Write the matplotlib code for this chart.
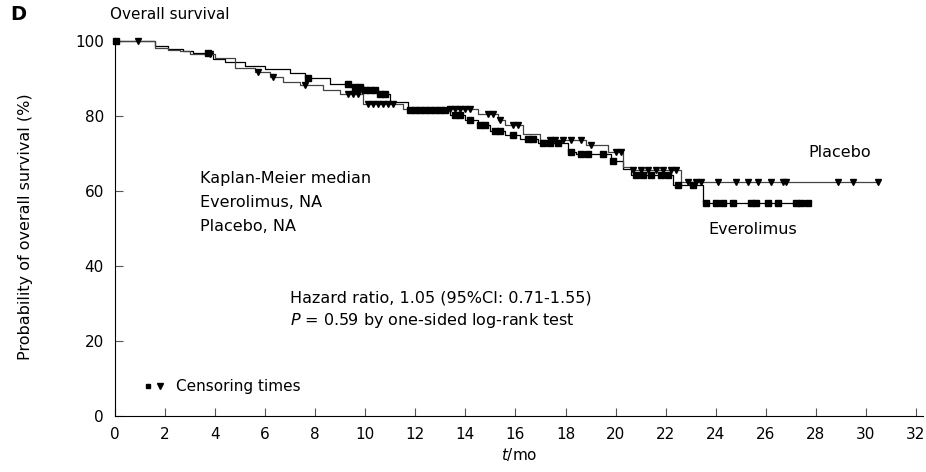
import matplotlib
matplotlib.use('Agg')
import matplotlib.pyplot as plt
import numpy as np

plt.rcParams['font.family'] = ['DejaVu Sans']

# Everolimus: step times and survival (%) after each step
ev_t = [0, 1.6, 2.1, 2.7, 3.1, 3.9, 4.4, 5.2, 6.0, 7.0, 7.6, 8.6, 9.4, 10.0, 10.5, 11.0,
        11.7, 13.4, 14.0, 14.5, 15.0, 15.6, 16.2, 16.9, 18.1, 18.4, 19.8, 20.3, 20.6, 22.3, 23.5]
ev_s = [100, 98.6, 97.9, 97.3, 96.7, 95.3, 94.3, 93.4, 92.6, 91.4, 90.0, 88.6, 87.7, 86.8, 85.8, 83.7,
        81.6, 80.3, 78.9, 77.5, 76.0, 75.0, 73.9, 72.7, 70.5, 69.8, 68.0, 66.0, 64.4, 61.7, 56.8]
ev_end = 27.7
ev_cens = [0.05, 3.7, 7.7, 9.3, 9.6, 9.8, 10.0, 10.2, 10.4, 10.6, 10.8, 11.8, 12.0, 12.2, 12.4,
           12.6, 12.8, 13.0, 13.2, 13.6, 13.8, 14.2, 14.6, 14.8, 15.2, 15.4, 15.9, 16.5, 16.7,
           17.1, 17.4, 17.7, 18.2, 18.6, 18.9, 19.5, 19.9, 20.8, 21.1, 21.4, 21.8, 22.1, 22.5,
           23.1, 23.6, 24.0, 24.3, 24.7, 25.4, 25.6, 26.1, 26.5, 27.2, 27.4, 27.7]

# Placebo
pl_t = [0, 1.6, 2.1, 2.6, 3.0, 4.0, 4.8, 5.6, 6.2, 6.7, 7.4, 8.3, 9.0, 9.9, 11.5,
        14.5, 15.3, 15.6, 16.3, 17.0, 18.8, 19.7, 20.3, 20.6, 22.6]
pl_s = [100, 98.2, 97.7, 97.2, 96.4, 95.4, 92.8, 91.6, 90.4, 89.0, 88.3, 86.9, 85.9, 83.3, 81.9,
        80.6, 79.0, 77.6, 75.3, 73.6, 72.3, 70.3, 66.5, 65.6, 62.5]
pl_end = 30.5
pl_cens = [0.9, 3.8, 5.7, 6.3, 7.6, 9.3, 9.5, 9.7, 10.1, 10.3, 10.5, 10.7, 10.9, 11.1, 13.4,
           13.6, 13.8, 14.0, 14.2, 14.9, 15.1, 15.4, 15.9, 16.1, 17.4, 17.6, 17.9, 18.2, 18.6,
           19.0, 20.0, 20.2, 20.7, 21.0, 21.3, 21.6, 21.9, 22.2, 22.4, 22.9, 23.2, 23.4, 24.1,
           24.8, 25.3, 25.7, 26.2, 26.7, 26.8, 28.9, 29.5, 30.5]

x_ticks = list(range(0, 33, 2))
y_ticks = [0, 20, 40, 60, 80, 100]


def curve_at(times, surv, t):
    i = np.searchsorted(times, t, side='right') - 1
    return np.array(surv)[i]


fig = plt.figure(figsize=(9.26, 4.72), dpi=100)
ax = fig.add_axes([0.1242, 0.1186, 0.873, 0.8009])

ax.step(ev_t + [ev_end], ev_s + [ev_s[-1]], where='post', color='black', lw=0.9, clip_on=False)
ax.step(pl_t + [pl_end], pl_s + [pl_s[-1]], where='post', color='#444444', lw=0.9, clip_on=False)

ax.plot(ev_cens, curve_at(ev_t, ev_s, ev_cens), 's', color='black', ms=4, clip_on=False)
ax.plot(pl_cens, curve_at(pl_t, pl_s, pl_cens), 'v', color='black', ms=5, clip_on=False)

ax.set_xlim(0, 32.3)
ax.set_ylim(0, 100.8)
ax.set_xticks(x_ticks)
ax.set_yticks(y_ticks)
ax.spines['top'].set_visible(False)
ax.spines['right'].set_visible(False)
ax.tick_params(direction='in', length=6, width=0.8, color='#555555', labelsize=11)
ax.tick_params(axis='x', pad=8)
ax.tick_params(axis='y', pad=8)

ax.set_xlabel('$t$/mo', fontsize=11, labelpad=3)
ax.set_ylabel('Probability of overall survival (%)', fontsize=11.5, labelpad=30)

fig.text(0.011, 0.97, 'D', fontsize=14, fontweight='bold', va='center')
fig.text(0.119, 0.97, 'Overall survival', fontsize=11, va='center')

fs = 11.5
ax.text(3.4, 63.3, 'Kaplan-Meier median', fontsize=fs, va='center')
ax.text(3.4, 56.9, 'Everolimus, NA', fontsize=fs, va='center')
ax.text(3.4, 50.5, 'Placebo, NA', fontsize=fs, va='center')
ax.text(7.0, 31.5, 'Hazard ratio, 1.05 (95%CI: 0.71-1.55)', fontsize=fs, va='center')
ax.text(7.0, 25.4, '$P$ = 0.59 by one-sided log-rank test', fontsize=fs, va='center')
ax.text(27.7, 70.2, 'Placebo', fontsize=fs, va='center')
ax.text(23.7, 49.8, 'Everolimus', fontsize=fs, va='center')

ax.plot([1.32], [7.9], 's', color='black', ms=3.5)
ax.plot([1.8], [7.9], 'v', color='black', ms=5)
ax.text(2.45, 7.9, 'Censoring times', fontsize=11, va='center')

fig.savefig('out.png', dpi=100)
